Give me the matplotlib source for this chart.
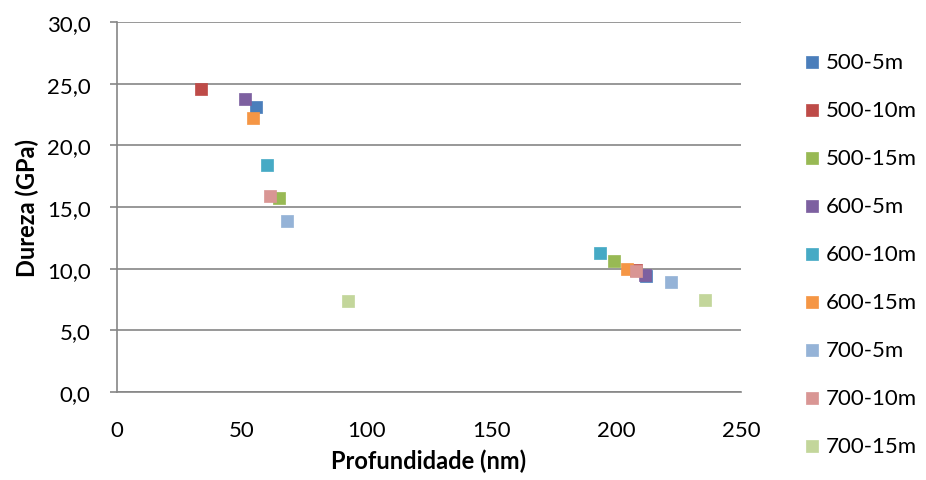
import matplotlib
matplotlib.use("Agg")
import matplotlib.pyplot as plt
from matplotlib.ticker import FuncFormatter

plt.rcParams['font.family'] = ['Lato', 'DejaVu Sans']

# series data: two points each (depth nm, hardness GPa)
labels = ['500-5m', '500-10m', '500-15m', '600-5m', '600-10m', '600-15m',
          '700-5m', '700-10m', '700-15m']
colors = ['#4A7EBB', '#BE4B48', '#98B954', '#7D60A0', '#46AAC5', '#F59645',
          '#95B3D7', '#D99694', '#C3D69B']
depth = [
    [55.8, 211.9],
    [33.7, 207.9],
    [64.8, 199.1],
    [51.4, 211.5],
    [60.0, 193.5],
    [54.5, 204.3],
    [68.2, 221.9],
    [61.3, 208.1],
    [92.6, 235.7],
]
hardness = [
    [23.1, 9.4],
    [24.6, 9.9],
    [15.7, 10.65],
    [23.8, 9.45],
    [18.4, 11.3],
    [22.2, 10.0],
    [13.9, 8.9],
    [15.9, 9.8],
    [7.4, 7.47],
]

fig = plt.figure(figsize=(9.26, 4.81), dpi=100)
ax = fig.add_axes([0.1264, 0.183, 0.6738, 0.769])

for lab, col, xs, ys in zip(labels, colors, depth, hardness):
    ax.scatter(xs, ys, marker='s', s=80, color=col, label=lab,
               edgecolors=col, linewidths=0.5, zorder=3)

ax.set_xlim(0, 250)
ax.set_ylim(0, 30)
ax.set_xticks([0, 50, 100, 150, 200, 250])
ax.set_yticks([0, 5, 10, 15, 20, 25, 30])
ax.yaxis.set_major_formatter(FuncFormatter(lambda v, p: f"{v:.1f}".replace('.', ',')))

ax.grid(axis='y', color='#868686', linewidth=1.2, zorder=0)
ax.set_axisbelow(True)
for s in ['top', 'right']:
    ax.spines[s].set_visible(False)
for s in ['left', 'bottom']:
    ax.spines[s].set_color('#868686')
    ax.spines[s].set_linewidth(1.2)

ax.tick_params(axis='y', length=5, color='#868686', width=1.2, pad=14, labelsize=16)
ax.tick_params(axis='x', length=0, pad=20, labelsize=16)

ax.set_xlabel('Profundidade (nm)', fontsize=17, fontweight='bold', labelpad=6)
ax.set_ylabel('Dureza (GPa)', fontsize=17, fontweight='bold', labelpad=6)

leg = ax.legend(loc='upper left', bbox_to_anchor=(1.082, 0.943), frameon=False,
                fontsize=16, labelspacing=1.26, handletextpad=0.1,
                handlelength=1.0, markerscale=1.0, borderaxespad=0)

fig.savefig('out.png', dpi=100)
